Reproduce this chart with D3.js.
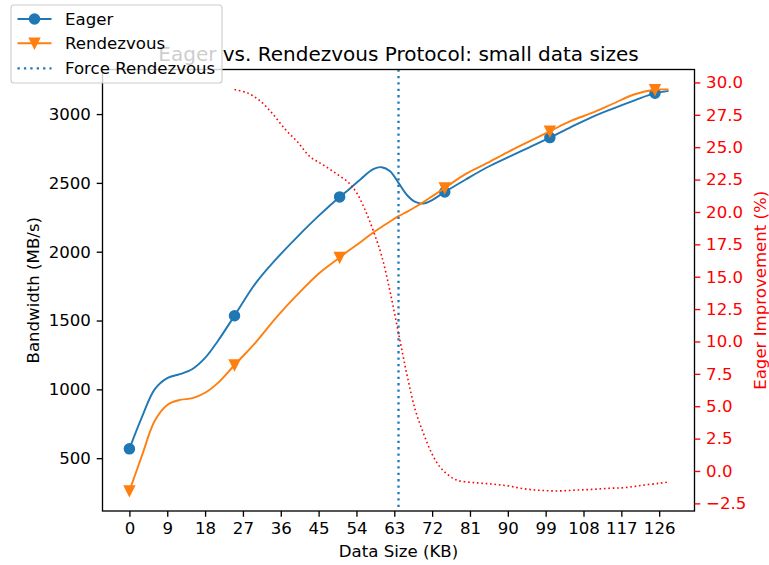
<!DOCTYPE html>
<html>
<head>
<meta charset="utf-8">
<script src="https://cdn.jsdelivr.net/npm/d3@7"></script>
<style>
  html, body { margin: 0; padding: 0; background: #fff; }
  svg { display: block; font-family: "DejaVu Sans", sans-serif; }
</style>
</head>
<body>
<svg id="chart" width="769" height="565"></svg>
<script>
// ---- data ----
const sizeKB = [0, 3, 6, 9, 12, 15, 18, 21, 25, 30, 35, 40, 45, 50, 52, 55, 58, 60, 62, 64, 66, 68, 70, 72, 75, 80, 85, 90, 95, 100, 105, 110, 115, 120, 125, 128];
const eagerBW = [568, 800, 1000, 1082, 1110, 1148, 1228, 1350, 1535, 1770, 1950, 2110, 2260, 2398, 2447, 2527, 2600, 2614, 2585, 2500, 2412, 2362, 2350, 2375, 2434, 2525, 2612, 2686, 2757, 2829, 2905, 2978, 3040, 3098, 3152, 3167];
const rendezvousBW = [262, 520, 770, 887, 923, 936, 975, 1045, 1177, 1340, 1525, 1690, 1840, 1958, 2005, 2070, 2140, 2180, 2220, 2258, 2290, 2325, 2362, 2402, 2463, 2565, 2643, 2724, 2800, 2875, 2950, 3008, 3075, 3142, 3177, 3178];
const markerKB = [0, 25, 50, 75, 100, 125];
const improvementKB = [25, 28, 31, 34, 37, 40, 43, 46, 49, 52, 54, 56, 58, 60, 62, 64, 66, 68, 70, 72, 74, 76, 78, 82, 86, 90, 94, 98, 102, 106, 110, 114, 118, 122, 126, 128];
const improvementPct = [29.45, 29.2, 28.6, 27.6, 26.4, 25.4, 24.25, 23.65, 23.0, 22.3, 21.5, 20.2, 18.55, 16.6, 13.85, 10.65, 7.45, 4.7, 2.85, 1.3, 0.25, -0.35, -0.72, -0.9, -1.0, -1.15, -1.38, -1.5, -1.54, -1.48, -1.42, -1.34, -1.28, -1.1, -0.95, -0.86];
const forceRendezvousKB = 64;
const xTickValues = [0, 9, 18, 27, 36, 45, 54, 63, 72, 81, 90, 99, 108, 117, 126];
const leftTickValues = [500, 1000, 1500, 2000, 2500, 3000];
const rightTickValues = [-2.5, 0, 2.5, 5, 7.5, 10, 12.5, 15, 17.5, 20, 22.5, 25, 27.5, 30];
const seriesNames = ["Eager", "Rendezvous", "Force Rendezvous"];
const titleText = "Eager vs. Rendezvous Protocol: small data sizes";

// ---- layout ----
const L = 102.5, R = 694.5, T = 69.5, B = 511;
const blue = "#1f77b4", orange = "#ff7f0e", red = "#ff0000";
const FS = 16.6, spineW = 1.33, tickLen = 5.8, tickPad = 5.8, LW = 1.9;

function padded(ext) { const s = ext[1] - ext[0]; return [ext[0] - 0.05 * s, ext[1] + 0.05 * s]; }

const x = d3.scaleLinear().domain(padded(d3.extent(sizeKB))).range([L, R]);
const yL = d3.scaleLinear().domain(padded(d3.extent(eagerBW.concat(rendezvousBW)))).range([B, T]);
const yR = d3.scaleLinear().domain(padded(d3.extent(improvementPct))).range([B, T]);

const svg = d3.select("#chart");
const fmtMinus = s => s.replace("-", "\u2212");

const eagerData = sizeKB.map((k, i) => [k, eagerBW[i]]);
const rdvData = sizeKB.map((k, i) => [k, rendezvousBW[i]]);
const impData = improvementKB.map((k, i) => [k, improvementPct[i]]);

const lineL = d3.line().x(d => x(d[0])).y(d => yL(d[1])).curve(d3.curveCatmullRom.alpha(0.5));
const lineR = d3.line().x(d => x(d[0])).y(d => yR(d[1])).curve(d3.curveCatmullRom.alpha(0.5));

svg.append("path").datum(eagerData).attr("d", lineL)
  .attr("fill", "none").attr("stroke", blue).attr("stroke-width", LW).attr("stroke-linejoin", "round").attr("stroke-linecap", "square");
svg.selectAll(".mE").data(eagerData.filter(d => markerKB.includes(d[0]))).enter()
  .append("circle").attr("cx", d => x(d[0])).attr("cy", d => yL(d[1])).attr("r", 5)
  .attr("fill", blue).attr("stroke", blue).attr("stroke-width", 1.5);

svg.append("path").datum(rdvData).attr("d", lineL)
  .attr("fill", "none").attr("stroke", orange).attr("stroke-width", LW).attr("stroke-linejoin", "round").attr("stroke-linecap", "square");
const tri = (cx, cy) => `M${cx},${cy + 5}L${cx - 5},${cy - 5}L${cx + 5},${cy - 5}Z`;
svg.selectAll(".mR").data(rdvData.filter(d => markerKB.includes(d[0]))).enter()
  .append("path").attr("d", d => tri(x(d[0]), yL(d[1])))
  .attr("fill", orange).attr("stroke", orange).attr("stroke-width", 1.5).attr("stroke-linejoin", "miter");

// force rendezvous vertical line
svg.append("line").attr("x1", x(forceRendezvousKB)).attr("x2", x(forceRendezvousKB))
  .attr("y1", T).attr("y2", B).attr("stroke", blue).attr("stroke-width", 2.3)
  .attr("stroke-dasharray", "2.3,4.1");

// improvement (right axis)
svg.append("path").datum(impData).attr("d", lineR)
  .attr("fill", "none").attr("stroke", red).attr("stroke-width", 1.6)
  .attr("stroke-dasharray", "1.6,2.8");

// frame
svg.append("rect").attr("x", L).attr("y", T).attr("width", R - L).attr("height", B - T)
  .attr("fill", "none").attr("stroke", "#000").attr("stroke-width", spineW);

// axes
function styleAxis(g, color) {
  g.select(".domain").remove();
  g.selectAll(".tick line").attr("stroke", color).attr("stroke-width", spineW);
  g.selectAll(".tick text").attr("fill", color).style("font-size", FS + "px")
    .style("font-family", "DejaVu Sans");
}
const gx = svg.append("g").attr("transform", `translate(0,${B})`)
  .call(d3.axisBottom(x).tickValues(xTickValues).tickSize(tickLen).tickPadding(tickPad).tickFormat(d3.format("d")));
styleAxis(gx, "#000");
const gl = svg.append("g").attr("transform", `translate(${L},0)`)
  .call(d3.axisLeft(yL).tickValues(leftTickValues).tickSize(tickLen).tickPadding(tickPad).tickFormat(d3.format("d")));
styleAxis(gl, "#000");
const gr = svg.append("g").attr("transform", `translate(${R},0)`)
  .call(d3.axisRight(yR).tickValues(rightTickValues).tickSize(tickLen).tickPadding(tickPad).tickFormat(d => fmtMinus(d3.format(".1f")(d))));
styleAxis(gr, red);

// axis labels
svg.append("text").attr("x", (L + R) / 2).attr("y", 557).attr("text-anchor", "middle")
  .style("font-size", FS + "px").text("Data Size (KB)");
svg.append("text").attr("transform", `translate(38.5,${(T + B) / 2}) rotate(-90)`).attr("text-anchor", "middle")
  .style("font-size", FS + "px").text("Bandwidth (MB/s)");
svg.append("text").attr("transform", `translate(766,${(T + B) / 2}) rotate(-90)`).attr("text-anchor", "middle")
  .attr("fill", red).style("font-size", FS + "px").text("Eager Improvement (%)");

// title
svg.append("text").attr("x", (L + R) / 2).attr("y", 61).attr("text-anchor", "middle")
  .style("font-size", "20px").text(titleText);

// legend
const lg = svg.append("g");
lg.append("rect").attr("x", 11).attr("y", 5).attr("width", 211).attr("height", 78).attr("rx", 3)
  .attr("fill", "rgba(255,255,255,0.8)").attr("stroke", "#cccccc").attr("stroke-width", 1.1);
const rowsY = [19, 43.3, 68.3];
const hx0 = 17.5, hx1 = 51.5, hxm = 34.5;
lg.append("line").attr("x1", hx0).attr("x2", hx1).attr("y1", rowsY[0]).attr("y2", rowsY[0]).attr("stroke", blue).attr("stroke-width", LW);
lg.append("circle").attr("cx", hxm).attr("cy", rowsY[0]).attr("r", 5).attr("fill", blue).attr("stroke", blue).attr("stroke-width", 1.5);
lg.append("line").attr("x1", hx0).attr("x2", hx1).attr("y1", rowsY[1]).attr("y2", rowsY[1]).attr("stroke", orange).attr("stroke-width", LW);
lg.append("path").attr("d", tri(hxm, rowsY[1])).attr("fill", orange).attr("stroke", orange).attr("stroke-width", 1.5);
lg.append("line").attr("x1", hx0).attr("x2", hx1).attr("y1", rowsY[2]).attr("y2", rowsY[2]).attr("stroke", blue).attr("stroke-width", 2.3).attr("stroke-dasharray", "2.3,4.1");
seriesNames.forEach((n, i) => {
  lg.append("text").attr("x", 65).attr("y", rowsY[i] + 6).style("font-size", FS + "px").text(n);
});
</script>
</body>
</html>
